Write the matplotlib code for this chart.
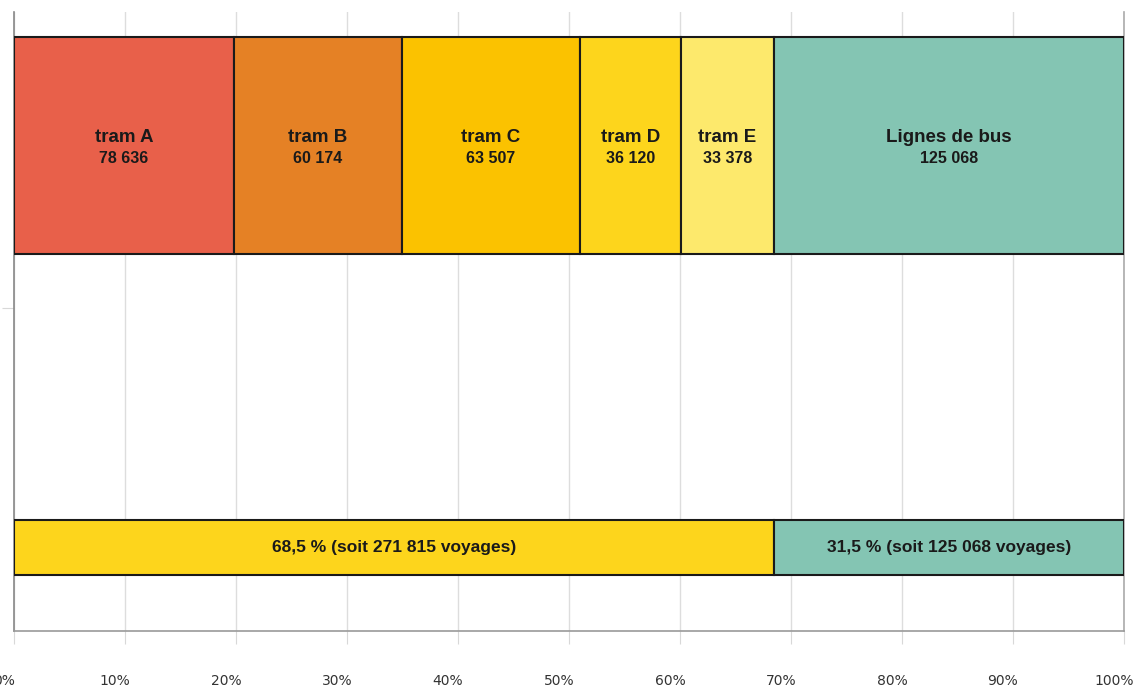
import matplotlib
matplotlib.use("Agg")
import matplotlib.pyplot as plt
import matplotlib.transforms as mtransforms
import numpy as np

# ── Data ─────────────────────────────────────────────────────────────
lines = ["tram A", "tram B", "tram C", "tram D", "tram E", "Lignes de bus"]
trips = [78636, 60174, 63507, 36120, 33378, 125068]
line_colors = ["#E8604A", "#E58125", "#FBC200", "#FDD51C", "#FDE96C", "#84C5B3"]

mode_labels = ["68,5 % (soit 271 815 voyages)", "31,5 % (soit 125 068 voyages)"]
mode_trips = [271815, 125068]
mode_colors = ["#FDD51C", "#84C5B3"]

x_ticks = [0, 10, 20, 30, 40, 50, 60, 70, 80, 90, 100]
x_ticklabels = ["0%", "10%", "20%", "30%", "40%", "50%", "60%", "70%", "80%", "90%", "100%"]


def fmt_fr(n):
    return f"{n:,}".replace(",", " ")


plt.rcParams["font.family"] = ["Liberation Sans", "DejaVu Sans"]

W, H = 1134, 686
fig = plt.figure(figsize=(W / 100, H / 100), dpi=100)
ax = fig.add_axes([14 / W, (H - 631) / H, (1124 - 14) / W, (631 - 12) / H])

# layout (axes fraction units)
top_y, top_h = 0.784, 0.351
bot_y, bot_h = 0.135, 0.089

total = sum(trips)
pct = np.array(trips) / total * 100
lefts = np.concatenate([[0], np.cumsum(pct)[:-1]])
ax.barh(top_y, pct, left=lefts, height=top_h, color=line_colors,
        edgecolor="#1a1a1a", linewidth=1.5, zorder=3)
for name, n, l, w in zip(lines, trips, lefts, pct):
    cx = l + w / 2
    ax.annotate(name, (cx, top_y), xytext=(0, 6), textcoords="offset points",
                ha="center", va="center", fontsize=13.5, fontweight="bold",
                color="#1a1a1a", zorder=4)
    ax.annotate(fmt_fr(n), (cx, top_y), xytext=(0, -9.5), textcoords="offset points",
                ha="center", va="center", fontsize=11.5, fontweight="bold",
                color="#1a1a1a", zorder=4)

mtotal = sum(mode_trips)
mpct = np.array(mode_trips) / mtotal * 100
mlefts = np.concatenate([[0], np.cumsum(mpct)[:-1]])
ax.barh(bot_y, mpct, left=mlefts, height=bot_h, color=mode_colors,
        edgecolor="#1a1a1a", linewidth=1.5, zorder=3)
for lab, l, w in zip(mode_labels, mlefts, mpct):
    ax.text(l + w / 2, bot_y, lab, ha="center", va="center", fontsize=12.5,
            fontweight="bold", color="#1a1a1a", zorder=4)

ax.set_xlim(0, 100)
ax.set_ylim(0, 1)
ax.set_xticks(x_ticks)
ax.set_xticklabels(x_ticklabels, family="DejaVu Sans", fontsize=10, color="#333333")
ax.set_yticks([0.522])
ax.set_yticklabels([""])
ax.tick_params(axis="x", length=9, color="#d8d8d8", pad=22)
ax.tick_params(axis="y", length=9, color="#d8d8d8")
ax.xaxis.grid(True, color="#dddddd", linewidth=1, zorder=0)
ax.set_axisbelow(True)

ax.spines["top"].set_visible(False)
ax.spines["left"].set_color("#888888")
ax.spines["bottom"].set_color("#999999")
ax.spines["right"].set_color("#aaaaaa")
for s in ("left", "bottom", "right"):
    ax.spines[s].set_linewidth(1.2)

# tick labels sit a little left of their ticks
offset = mtransforms.ScaledTranslation(-10 / 100, 0, fig.dpi_scale_trans)
for lbl in ax.get_xticklabels():
    lbl.set_transform(lbl.get_transform() + offset)

fig.savefig("out.png", dpi=100, facecolor="white")
